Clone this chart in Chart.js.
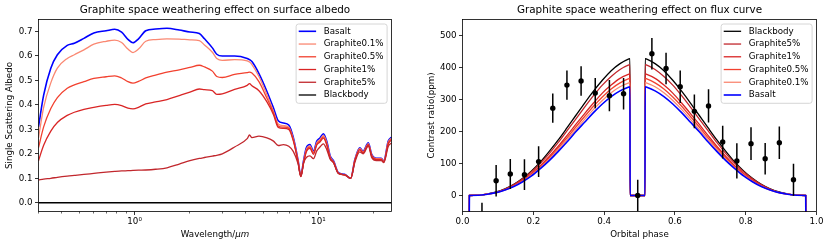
<!DOCTYPE html>
<html>
<head>
<meta charset="utf-8">
<script src="https://cdn.jsdelivr.net/npm/chart.js@4.4.1/dist/chart.umd.min.js"></script>
<style>
  html, body { margin: 0; padding: 0; background: #fff; }
  #wrap { position: relative; width: 830px; height: 248px; overflow: hidden; }
  canvas { position: absolute; top: 0; }
</style>
</head>
<body>
<div id="wrap">
  <canvas id="albedo" width="415" height="248" style="left:0"></canvas>
  <canvas id="flux" width="415" height="248" style="left:415px"></canvas>
</div>
<script>
// ---- left panel: single scattering albedo vs wavelength (um)
const wavelength = [0.3, 0.32, 0.35, 0.38, 0.43, 0.47, 0.53, 0.6, 0.7, 0.78,
  0.85, 0.92, 0.98, 1.05, 1.15, 1.3, 1.5, 1.75, 2.0, 2.25,
  2.4, 2.65, 2.8, 3.0, 3.5, 4.1, 4.22, 4.35, 4.75, 5.25,
  5.7, 6.05, 6.45, 6.9, 7.3, 7.75, 8.03, 8.3, 8.6, 9.0,
  9.4, 9.8, 10.2, 10.65, 11.1, 11.6, 12.1, 12.85, 13.9, 15.0,
  15.8, 16.8, 17.5, 18.7, 19.5, 20.7, 22.0, 22.7, 24.0, 25.0];
const basaltAlbedo = [0.31, 0.44, 0.55, 0.605, 0.643, 0.652, 0.672, 0.694, 0.703, 0.709,
  0.697, 0.668, 0.654, 0.670, 0.703, 0.710, 0.713, 0.706, 0.698, 0.692,
  0.670, 0.633, 0.607, 0.600, 0.600, 0.590, 0.585, 0.577, 0.528, 0.455,
  0.387, 0.335, 0.326, 0.318, 0.268, 0.175, 0.110, 0.171, 0.225, 0.238,
  0.211, 0.252, 0.265, 0.282, 0.252, 0.191, 0.171, 0.123, 0.116, 0.100,
  0.177, 0.225, 0.211, 0.245, 0.198, 0.182, 0.182, 0.171, 0.252, 0.268];
const graphite01Albedo = [0.265, 0.39, 0.49, 0.55, 0.59, 0.605, 0.625, 0.648, 0.660, 0.665,
  0.655, 0.628, 0.614, 0.628, 0.660, 0.667, 0.670, 0.669, 0.666, 0.663,
  0.645, 0.615, 0.590, 0.582, 0.585, 0.580, 0.575, 0.565, 0.516, 0.441,
  0.373, 0.322, 0.315, 0.310, 0.262, 0.172, 0.108, 0.166, 0.218, 0.232,
  0.206, 0.245, 0.258, 0.275, 0.246, 0.187, 0.168, 0.122, 0.115, 0.100,
  0.175, 0.222, 0.208, 0.242, 0.195, 0.180, 0.180, 0.169, 0.248, 0.264];
const graphite05Albedo = [0.225, 0.31, 0.385, 0.43, 0.468, 0.482, 0.495, 0.508, 0.515, 0.519,
  0.510, 0.495, 0.489, 0.496, 0.510, 0.522, 0.534, 0.543, 0.553, 0.562,
  0.555, 0.538, 0.516, 0.512, 0.525, 0.532, 0.534, 0.530, 0.495, 0.427,
  0.367, 0.314, 0.309, 0.305, 0.258, 0.170, 0.108, 0.162, 0.213, 0.227,
  0.202, 0.240, 0.253, 0.269, 0.241, 0.184, 0.166, 0.121, 0.114, 0.100,
  0.173, 0.219, 0.205, 0.239, 0.193, 0.178, 0.178, 0.168, 0.244, 0.260];
const graphite1Albedo = [0.172, 0.235, 0.293, 0.328, 0.357, 0.370, 0.382, 0.390, 0.398, 0.402,
  0.397, 0.387, 0.384, 0.390, 0.404, 0.412, 0.422, 0.438, 0.452, 0.465,
  0.462, 0.458, 0.443, 0.445, 0.463, 0.480, 0.487, 0.478, 0.458, 0.412,
  0.360, 0.308, 0.304, 0.300, 0.254, 0.168, 0.108, 0.160, 0.208, 0.222,
  0.198, 0.236, 0.248, 0.264, 0.237, 0.181, 0.164, 0.120, 0.114, 0.100,
  0.172, 0.216, 0.203, 0.236, 0.191, 0.176, 0.176, 0.166, 0.240, 0.256];
const graphite5Albedo = [0.093, 0.097, 0.100, 0.104, 0.109, 0.112, 0.116, 0.120, 0.125, 0.128,
  0.130, 0.131, 0.132, 0.133, 0.134, 0.137, 0.143, 0.158, 0.172, 0.181,
  0.185, 0.191, 0.194, 0.200, 0.228, 0.262, 0.277, 0.266, 0.272, 0.265,
  0.252, 0.234, 0.238, 0.231, 0.210, 0.160, 0.107, 0.162, 0.185, 0.192,
  0.180, 0.212, 0.228, 0.241, 0.218, 0.178, 0.163, 0.120, 0.114, 0.100,
  0.165, 0.208, 0.200, 0.232, 0.185, 0.172, 0.172, 0.164, 0.230, 0.245];
const blackbodyWave = [0.3, 25];
const blackbodyAlbedo = [0, 0];

const wavelengthTicks = [0.3, 0.4, 0.5, 0.6, 0.7, 0.8, 0.9, 1, 2, 3, 4, 5, 6, 7, 8, 9, 10, 20];
const wavelengthMajor = [1, 10];
const wavelengthLabels = ['10\u2070', '10\u00b9'];
const albedoTicks = [0, 0.1, 0.2, 0.3, 0.4, 0.5, 0.6, 0.7];

// ---- right panel: contrast ratio (ppm) vs orbital phase
const phaseGrid = [0.019, 0.0195, 0.045, 0.07, 0.095, 0.12, 0.145, 0.17, 0.195, 0.22,
  0.245, 0.27, 0.295, 0.32, 0.345, 0.37, 0.395, 0.42, 0.445, 0.47,
  0.473, 0.4735, 0.5155, 0.516, 0.519, 0.544, 0.569, 0.594, 0.619, 0.644,
  0.669, 0.694, 0.719, 0.744, 0.769, 0.794, 0.819, 0.844, 0.869, 0.894,
  0.919, 0.944, 0.9695, 0.97];
const blackbodyFlux = [-100, 0, 1, 5, 11, 21, 35, 54, 77, 105, 138, 173, 211, 250, 289, 326, 360, 390, 412, 427, 428,
  0, 0, 428, 427, 412, 390, 360, 326, 289, 250, 211, 173, 138, 105, 77, 54, 35, 21, 11, 5, 1, 0, -100];
const graphite5Flux = [-100, 0, 1, 5, 10, 20, 34, 52, 74, 101, 131, 165, 202, 239, 276, 312, 345, 372, 394, 408, 409,
  0, 0, 409, 408, 394, 372, 345, 312, 276, 239, 202, 165, 131, 101, 74, 52, 34, 20, 10, 5, 1, 0, -100];
const graphite1Flux = [-100, 0, 1, 4, 10, 18, 31, 48, 69, 93, 122, 153, 187, 222, 256, 289, 320, 345, 366, 379, 380,
  0, 0, 380, 379, 366, 345, 320, 289, 256, 222, 187, 153, 122, 93, 69, 48, 31, 18, 10, 4, 1, 0, -100];
const graphite05Flux = [-100, 0, 1, 4, 9, 18, 30, 46, 66, 90, 117, 148, 180, 214, 247, 279, 308, 333, 352, 365, 366,
  0, 0, 366, 365, 352, 333, 308, 279, 247, 214, 180, 148, 117, 90, 66, 46, 30, 18, 9, 4, 1, 0, -100];
const graphite01Flux = [-100, 0, 1, 4, 9, 17, 29, 44, 64, 87, 113, 143, 174, 206, 238, 269, 297, 321, 340, 352, 353,
  0, 0, 353, 352, 340, 321, 297, 269, 238, 206, 174, 143, 113, 87, 64, 44, 29, 17, 9, 4, 1, 0, -100];
const basaltFlux = [-100, 0, 1, 4, 9, 17, 28, 43, 61, 84, 109, 137, 167, 199, 229, 259, 286, 309, 327, 339, 340,
  0, 0, 340, 339, 327, 309, 286, 259, 229, 199, 167, 137, 109, 84, 61, 43, 28, 17, 9, 4, 1, 0, -100];

const obsPhase = [0.055, 0.095, 0.135, 0.175, 0.215, 0.255, 0.295, 0.335, 0.375, 0.415, 0.455, 0.495,
  0.535, 0.575, 0.615, 0.655, 0.695, 0.735, 0.775, 0.815, 0.855, 0.895, 0.935];
const obsFlux = [-73, 46, 67, 65, 106, 273, 345, 358, 320, 312, 318, 0,
  443, 397, 340, 263, 280, 167, 108, 162, 115, 165, 49];
const obsErr = [50, 49, 47, 48, 48, 46, 46, 46, 47, 49, 49, 49,
  49, 49, 51, 53, 52, 51, 55, 51, 49, 51, 50];

const phaseTicks = [0, 0.2, 0.4, 0.6, 0.8, 1.0];
const fluxTicks = [0, 100, 200, 300, 400, 500];

const FAMILY = '"DejaVu Sans", sans-serif';
Chart.defaults.font.family = FAMILY;
Chart.defaults.font.size = 8.7;
Chart.defaults.color = '#000';

const colBasalt = '#0000ff', col01 = '#fa8872', col05 = '#f2412f', col1 = '#d92525', col5 = '#c1272d', colBB = '#000000';
// tick marks are drawn by the plugin, so the scales reserve no tick length
const noGrid = {display: false, drawTicks: false, tickLength: 0};

function roundRect(ctx, x, y, w, h, r) {
  ctx.beginPath();
  ctx.moveTo(x + r, y);
  ctx.arcTo(x + w, y, x + w, y + h, r);
  ctx.arcTo(x + w, y + h, x, y + h, r);
  ctx.arcTo(x, y + h, x, y, r);
  ctx.arcTo(x, y, x + w, y, r);
  ctx.closePath();
}
const snap = v => Math.round(v - 0.5) + 0.5;

// axes frame, ticks, titles, legend and error bars in matplotlib style
const framePlugin = {
  id: 'frame',
  afterDatasetsDraw(chart, args, o) {
    if (!o.errors) return;
    const {ctx, chartArea: a} = chart;
    const xs = chart.scales.x, ys = chart.scales.y;
    ctx.save();
    ctx.beginPath();
    ctx.rect(a.left, a.top, a.right - a.left, a.bottom - a.top);
    ctx.clip();
    ctx.strokeStyle = '#000';
    ctx.lineWidth = 1.5;
    o.errors.x.forEach((p, i) => {
      const px = xs.getPixelForValue(p);
      ctx.beginPath();
      ctx.moveTo(px, ys.getPixelForValue(o.errors.y[i] - o.errors.err[i]));
      ctx.lineTo(px, ys.getPixelForValue(o.errors.y[i] + o.errors.err[i]));
      ctx.stroke();
    });
    ctx.restore();
  },
  afterDraw(chart, args, o) {
    const {ctx, chartArea: a} = chart;
    const xs = chart.scales.x, ys = chart.scales.y;
    ctx.save();
    ctx.strokeStyle = '#000';
    ctx.lineWidth = 0.8;
    ctx.strokeRect(a.left, a.top, a.right - a.left, a.bottom - a.top);
    xs.ticks.forEach(t => {
      const major = !o.majorX || o.majorX.includes(t.value);
      const px = snap(xs.getPixelForValue(t.value));
      ctx.lineWidth = major ? 0.8 : 0.6;
      ctx.beginPath();
      ctx.moveTo(px, a.bottom);
      ctx.lineTo(px, a.bottom + (major ? 3.5 : 2));
      ctx.stroke();
    });
    ys.ticks.forEach(t => {
      const py = snap(ys.getPixelForValue(t.value));
      ctx.lineWidth = 0.8;
      ctx.beginPath();
      ctx.moveTo(a.left - 3.5, py);
      ctx.lineTo(a.left, py);
      ctx.stroke();
    });

    ctx.fillStyle = '#000';
    ctx.textBaseline = 'middle';
    ctx.textAlign = 'center';
    ctx.font = '10.4px ' + FAMILY;
    ctx.fillText(o.title, (a.left + a.right) / 2, 10.5);

    // x axis title (optional italic tail, like mathtext)
    ctx.font = '8.7px ' + FAMILY;
    const w1 = ctx.measureText(o.xTitle).width;
    ctx.font = 'italic 8.7px ' + FAMILY;
    const w2 = o.xTitleItalic ? ctx.measureText(o.xTitleItalic).width : 0;
    let tx = (a.left + a.right) / 2 - (w1 + w2) / 2;
    ctx.textAlign = 'left';
    ctx.font = '8.7px ' + FAMILY;
    ctx.fillText(o.xTitle, tx, a.bottom + 23.5);
    if (o.xTitleItalic) {
      ctx.font = 'italic 8.7px ' + FAMILY;
      ctx.fillText(o.xTitleItalic, tx + w1, a.bottom + 23.5);
    }

    ctx.save();
    ctx.font = '8.7px ' + FAMILY;
    ctx.textAlign = 'center';
    ctx.translate(o.yTitleX, (a.top + a.bottom) / 2);
    ctx.rotate(-Math.PI / 2);
    ctx.fillText(o.yTitle, 0, 0);
    ctx.restore();

    // legend box, upper right
    const items = chart.data.datasets.filter(d => d.label);
    ctx.font = '8.7px ' + FAMILY;
    const maxW = Math.max(...items.map(d => ctx.measureText(d.label).width));
    const rowH = 12.74;
    const bw = 27.6 + maxW + 3.5, bh = 7.3 + (items.length - 1) * rowH + 8.3;
    const bx = a.right - 4.4 - bw, by = a.top + 4.5;
    roundRect(ctx, bx, by, bw, bh, 2.5);
    ctx.fillStyle = 'rgba(255,255,255,0.8)';
    ctx.fill();
    ctx.strokeStyle = '#cccccc';
    ctx.lineWidth = 0.8;
    ctx.stroke();
    items.forEach((d, i) => {
      const yy = by + 7.3 + i * rowH;
      ctx.strokeStyle = d.borderColor;
      ctx.lineWidth = d.borderWidth;
      ctx.beginPath();
      ctx.moveTo(bx + 2.6, yy);
      ctx.lineTo(bx + 20, yy);
      ctx.stroke();
      ctx.fillStyle = '#000';
      ctx.textAlign = 'left';
      ctx.fillText(d.label, bx + 27.6, yy);
    });
    ctx.restore();
  }
};

function lineSet(label, xs, ys, color, width, order) {
  return {
    label: label,
    data: xs.map((x, i) => ({x: x, y: ys[i]})),
    borderColor: color,
    backgroundColor: color,
    borderWidth: width,
    pointRadius: 0,
    fill: false,
    cubicInterpolationMode: 'monotone',
    order: order
  };
}

new Chart(document.getElementById('albedo'), {
  type: 'line',
  data: {
    datasets: [
      lineSet('Basalt', wavelength, basaltAlbedo, colBasalt, 1.6, 6),
      lineSet('Graphite0.1%', wavelength, graphite01Albedo, col01, 1.3, 5),
      lineSet('Graphite0.5%', wavelength, graphite05Albedo, col05, 1.3, 4),
      lineSet('Graphite1%', wavelength, graphite1Albedo, col1, 1.3, 3),
      lineSet('Graphite5%', wavelength, graphite5Albedo, col5, 1.3, 2),
      lineSet('Blackbody', blackbodyWave, blackbodyAlbedo, colBB, 1.3, 1)
    ]
  },
  options: {
    responsive: false,
    animation: false,
    devicePixelRatio: 1,
    layout: {padding: {top: 19.5, right: 23.5, left: 0, bottom: 0}},
    plugins: {
      legend: {display: false},
      tooltip: {enabled: false},
      frame: {
        title: 'Graphite space weathering effect on surface albedo',
        xTitle: 'Wavelength/', xTitleItalic: '\u03bcm',
        yTitle: 'Single Scattering Albedo', yTitleX: 10,
        majorX: wavelengthMajor
      }
    },
    scales: {
      x: {
        type: 'logarithmic', min: 0.3, max: 25,
        afterBuildTicks: s => { s.ticks = wavelengthTicks.map(v => ({value: v})); },
        ticks: {
          autoSkip: false, maxRotation: 0, minRotation: 0, padding: 5,
          callback: v => { const k = wavelengthMajor.indexOf(v); return k < 0 ? '' : wavelengthLabels[k]; }
        },
        grid: noGrid, border: {display: false},
        afterFit: s => { s.height = 36.5; }
      },
      y: {
        type: 'linear', min: -0.0357, max: 0.749, bounds: 'data',
        afterBuildTicks: s => { s.ticks = albedoTicks.map(v => ({value: v})); },
        ticks: {padding: 6, callback: v => v.toFixed(1)},
        grid: noGrid, border: {display: false},
        afterFit: s => { s.width = 38.5; }
      }
    }
  },
  plugins: [framePlugin]
});

new Chart(document.getElementById('flux'), {
  type: 'line',
  data: {
    datasets: [
      {
        data: obsPhase.map((p, i) => ({x: p, y: obsFlux[i]})),
        showLine: false, pointRadius: 2.7, pointBorderWidth: 0,
        pointBackgroundColor: '#000', borderColor: '#000', order: 0
      },
      lineSet('Blackbody', phaseGrid, blackbodyFlux, colBB, 1.3, 6),
      lineSet('Graphite5%', phaseGrid, graphite5Flux, col5, 1.3, 5),
      lineSet('Graphite1%', phaseGrid, graphite1Flux, col1, 1.3, 4),
      lineSet('Graphite0.5%', phaseGrid, graphite05Flux, col05, 1.3, 3),
      lineSet('Graphite0.1%', phaseGrid, graphite01Flux, col01, 1.3, 2),
      lineSet('Basalt', phaseGrid, basaltFlux, colBasalt, 1.6, 1)
    ]
  },
  options: {
    responsive: false,
    animation: false,
    devicePixelRatio: 1,
    layout: {padding: {top: 19.5, right: 13.5, left: 0, bottom: 0}},
    plugins: {
      legend: {display: false},
      tooltip: {enabled: false},
      frame: {
        title: 'Graphite space weathering effect on flux curve',
        xTitle: 'Orbital phase',
        yTitle: 'Contrast ratio(ppm)', yTitleX: 17,
        errors: {x: obsPhase, y: obsFlux, err: obsErr}
      }
    },
    scales: {
      x: {
        type: 'linear', min: 0, max: 1, bounds: 'data',
        afterBuildTicks: s => { s.ticks = phaseTicks.map(v => ({value: v})); },
        ticks: {autoSkip: false, maxRotation: 0, minRotation: 0, padding: 5, callback: v => v.toFixed(1)},
        grid: noGrid, border: {display: false},
        afterFit: s => { s.height = 36.5; }
      },
      y: {
        type: 'linear', min: -50, max: 550, bounds: 'data',
        afterBuildTicks: s => { s.ticks = fluxTicks.map(v => ({value: v})); },
        ticks: {padding: 6, callback: v => String(v)},
        grid: noGrid, border: {display: false},
        afterFit: s => { s.width = 47.5; }
      }
    }
  },
  plugins: [framePlugin]
});
</script>
</body>
</html>
